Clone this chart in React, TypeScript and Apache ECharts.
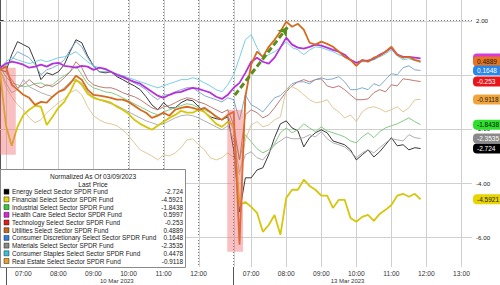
import React, { useEffect, useRef } from "react";
import * as echarts from "echarts";

const FONT = "Liberation Sans, Arial, sans-serif";

// time samples (10-minute bars) for each session
const day1Times = ["06:20","06:30","06:40","06:50","07:00","07:10","07:20","07:30","07:40","07:50","08:00","08:10","08:20","08:30","08:40","08:50","09:00","09:10","09:20","09:30","09:40","09:50","10:00","10:10","10:20","10:30","10:40","10:50","11:00","11:10","11:20","11:30","11:40","11:50","12:00","12:10","12:20","12:30","12:40","12:50"];
const day2Times = ["06:30","06:40","06:50","07:00","07:10","07:20","07:30","07:40","07:50","08:00","08:10","08:20","08:30","08:40","08:50","09:00","09:10","09:20","09:30","09:40","09:50","10:00","10:10","10:20","10:30","10:40","10:50","11:00","11:10","11:20","11:30","11:40","11:50"];

const day1HourLabels = ["07:00","08:00","09:00","10:00","11:00","12:00"];
const day2HourLabels = ["07:00","08:00","09:00","10:00","11:00","12:00","13:00"];
const dateLabels = ["10 Mar 2023", "13 Mar 2023"];
const dateCenters = ["09:40", "09:45"];
const sessionStarts = ["06:30", "06:30"];
const yTickValues = [-6, -4, -2, 0, 2];
const yLabelValues = [-6, -4, -2, 2];
const Y_MIN = -7.088;
const Y_MAX = 2.756;
const X_MAX = 808;

const sectorNames = [
  "Energy Select Sector SPDR Fund",
  "Financial Select Sector SPDR Fund",
  "Industrial Select Sector SPDR Fund",
  "Health Care Select Sector SPDR Fund",
  "Technology Select Sector SPDR Fund",
  "Utilities Select Sector SPDR Fund",
  "Consumer Discretionary Select Sector SPDR Fund",
  "Materials Select Sector SPDR Fund",
  "Consumer Staples Select Sector SPDR Fund",
  "Real Estate Select Sector SPDR Fund",
];
const lastPrices = ["-2.724","-4.5921","-1.8438","0.5997","-0.253","0.4889","0.1648","-2.3535","0.4478","-0.9118"];

const energyD1 = [0.18,0.11,0.74,1.22,1.11,1.00,0.48,-0.18,0.07,0,0.11,0.37,0.85,1.29,1.18,0.70,0.33,0.11,0.07,0.11,-0.07,-0.18,-0.30,-0.41,-0.55,-0.81,-1.11,-1.29,-1.03,-1.22,-1.22,-1.03,-0.92,-0.96,-1.18,-1.37,-1.55,-1.62,-1.66,-1.55];
const energyD2 = [-2.77,-5.06,-3.80,-3.80,-3.51,-3.43,-2.95,-2.32,-1.81,-1.70,-1.96,-2.07,-2.66,-2.32,-2.14,-2.03,-2.14,-2.44,-2.51,-2.58,-2.77,-3.14,-2.95,-2.77,-3.03,-2.84,-2.58,-2.32,-2.62,-2.58,-2.77,-2.69,-2.72];
const financialD1 = [0.11,-1.85,-2.62,-1.92,-1.48,-1.29,-1.14,-1.18,-1.85,-1.55,-1.22,-1.00,-0.63,-0.18,-0.37,-0.70,-0.85,-0.92,-0.96,-1.03,-1.18,-1.29,-1.44,-1.66,-1.81,-1.92,-2.03,-1.88,-1.73,-1.59,-1.48,-1.33,-1.40,-1.40,-1.29,-1.37,-1.59,-1.81,-1.92,-1.73];
const financialD2 = [-1.85,-4.80,-4.69,-4.87,-5.09,-5.79,-5.54,-5.17,-5.90,-4.54,-4.24,-4.24,-3.87,-4.10,-4.24,-4.46,-4.46,-4.91,-4.61,-4.61,-5.28,-5.42,-5.24,-5.17,-5.39,-5.13,-4.98,-4.80,-4.46,-4.39,-4.50,-4.39,-4.59];
const industrialD1 = [0.30,-0.07,-0.30,-0.37,-0.44,-0.41,-0.33,-0.30,-0.41,-0.37,-0.18,-0.04,0.11,0.33,0,-0.33,-0.48,-0.55,-0.63,-0.66,-0.74,-0.85,-0.96,-1.07,-1.18,-1.29,-1.40,-1.48,-1.37,-1.29,-1.22,-1.14,-1.07,-1.11,-1.22,-1.29,-1.40,-1.51,-1.66,-1.51];
const industrialD2 = [-2.03,-3.14,-2.21,-2.47,-2.73,-2.88,-2.77,-2.55,-2.14,-1.96,-2.14,-2.03,-1.81,-1.96,-2.10,-1.92,-2.07,-2.14,-2.21,-2.29,-2.44,-2.51,-2.29,-2.14,-2.32,-2.10,-1.96,-1.88,-1.81,-1.70,-1.59,-1.73,-1.84];
const healthD1 = [0.26,0.41,0.48,0.44,0.37,0.26,0.30,0.37,0.30,0.41,0.44,0.33,0.30,0.26,0.33,0.30,0.18,0.26,0.22,0.11,0,-0.07,-0.18,-0.26,-0.33,-0.48,-0.63,-0.77,-0.85,-0.74,-0.66,-0.63,-0.55,-0.48,-0.52,-0.59,-0.66,-0.81,-0.89,-0.74];
const healthD2 = [-0.48,-0.30,0.07,0.48,0.63,0.48,0.41,0.63,1.00,1.37,1.11,1.00,0.96,1.03,1.11,1.07,1.00,0.92,0.85,0.74,0.55,0.44,0.52,0.52,0.59,0.74,0.85,1.00,0.74,0.66,0.66,0.63,0.60];
const techD1 = [0.18,0.11,-0.18,-0.48,-0.37,-0.18,-0.37,-0.48,-0.37,-0.44,-0.30,-0.11,0.11,0.48,0.26,-0.18,-0.37,-0.44,-0.48,-0.48,-0.55,-0.66,-0.74,-0.81,-0.92,-1.07,-1.22,-1.29,-1.18,-1.14,-1.03,-0.92,-0.85,-0.89,-1.00,-1.07,-1.18,-1.29,-1.40,-1.29];
const techD2 = [-1.85,-3.14,-1.48,-1.29,-1.40,-1.59,-1.48,-1.22,-0.92,-0.63,-0.41,-0.26,-0.18,-0.26,-0.18,-0.15,-0.41,-0.48,-0.41,-0.55,-0.74,-0.92,-0.92,-0.89,-0.66,-0.55,-0.63,-0.37,-0.41,-0.15,-0.18,-0.22,-0.25];
const utilD1 = [0.18,0.30,-0.37,-0.55,-0.74,-0.85,-1.11,-1.00,-1.03,-0.81,-0.63,-0.55,-0.33,-0.04,-0.18,-0.55,-0.74,-0.77,-0.81,-0.85,-0.92,-0.92,-1.00,-1.14,-1.29,-1.40,-1.59,-1.51,-1.40,-1.51,-1.29,-1.22,-1.18,-1.22,-1.29,-1.22,-1.37,-1.55,-1.66,-1.48];
const utilD2 = [-1.37,-6.27,-0.81,0.37,0.85,0.66,1.03,1.29,1.59,1.96,1.77,1.88,1.66,1.18,1.11,1.22,1.14,1.03,0.85,0.66,0.55,0.33,0.55,0.48,0.63,0.70,0.85,1.03,0.74,0.63,0.66,0.55,0.49];
const discD1 = [0.26,0.33,0.55,0.85,0.74,0.63,0.37,0,0.18,0.26,0.37,0.55,0.92,1.22,1.03,0.63,0.33,0.11,0.11,0.11,-0.04,-0.11,-0.18,-0.30,-0.41,-0.55,-0.77,-0.92,-0.74,-0.74,-0.63,-0.55,-0.48,-0.48,-0.63,-0.77,-0.85,-0.92,-1.00,-0.85];
const discD2 = [-0.92,-1.66,-0.74,-1.11,-1.22,-1.37,-1.11,-0.85,-0.77,-0.55,-0.33,-0.26,-0.26,-0.33,-0.18,-0.11,-0.18,-0.15,-0.07,-0.26,-0.55,-0.55,-0.48,-0.55,-0.33,-0.41,-0.18,0.04,0,0.26,0.33,0.18,0.16];
const materialsD1 = [0.18,-0.30,-0.66,-0.55,-0.18,-0.44,-0.55,-0.66,-0.74,-0.81,-0.63,-0.48,-0.26,-0.18,-0.30,-0.63,-0.81,-0.92,-1.00,-1.07,-1.14,-1.25,-1.37,-1.48,-1.59,-1.70,-1.77,-1.85,-1.81,-1.70,-1.59,-1.51,-1.48,-1.51,-1.59,-1.70,-1.81,-1.92,-2.03,-1.88];
const materialsD2 = [-2.40,-3.58,-2.95,-2.84,-3.06,-3.14,-2.88,-2.58,-2.44,-2.29,-2.36,-2.36,-2.32,-2.21,-2.29,-2.10,-2.36,-2.51,-2.58,-2.66,-2.84,-3.06,-2.88,-2.77,-2.88,-2.69,-2.51,-2.36,-2.40,-2.44,-2.21,-2.32,-2.35];
const staplesD1 = [0.26,0.48,0.63,0.55,0.48,0.41,0.48,0.55,0.48,0.55,0.63,0.66,0.74,0.85,0.66,0.48,0.33,0.26,0.18,0.11,0.04,-0.04,-0.11,-0.18,-0.26,-0.33,-0.41,-0.48,-0.41,-0.33,-0.26,-0.18,-0.18,-0.11,-0.18,-0.30,-0.41,-0.55,-0.63,-0.37];
const staplesD2 = [0,0.63,1.29,1.48,1.00,0.63,0.74,0.85,1.00,1.22,1.00,0.92,0.74,0.92,1.03,1.00,0.92,0.85,0.74,0.66,0.55,0.37,0.48,0.48,0.55,0.66,0.77,0.92,0.70,0.55,0.59,0.52,0.45];
const realEstateD1 = [0.18,-0.44,-0.81,-1.11,-1.29,-1.59,-1.77,-1.66,-1.40,-1.22,-1.03,-0.89,-0.66,-0.55,-0.74,-1.18,-1.51,-1.66,-1.77,-1.81,-1.88,-2.03,-2.25,-2.51,-2.77,-2.88,-2.99,-3.14,-2.95,-2.99,-2.88,-2.69,-2.40,-2.36,-2.58,-2.77,-3.06,-3.14,-3.06,-2.88];
const realEstateD2 = [-3.06,-3.69,-2.40,-1.85,-1.73,-1.92,-1.85,-1.66,-1.55,-0.55,-0.44,-0.55,-0.74,-0.92,-1.03,-1.00,-0.92,-1.22,-1.37,-1.59,-1.48,-1.73,-1.37,-1.22,-1.18,-1.25,-1.37,-1.29,-1.18,-1.37,-1.22,-0.92,-0.91];

const valuesDay1 = [energyD1, financialD1, industrialD1, healthD1, techD1, utilD1, discD1, materialsD1, staplesD1, realEstateD1];
const valuesDay2 = [energyD2, financialD2, industrialD2, healthD2, techD2, utilD2, discD2, materialsD2, staplesD2, realEstateD2];

const legendColors = ["#000000","#e6d600","#33cc33","#dd22dd","#e01b1b","#c8661a","#2d7fe0","#888888","#35c0e0","#e8a02a"];
const lineColors = ["#222222","#d6c60e","#78c478","#b531d9","#b86a63","#d66a1e","#73a0cc","#a6a6a6","#66c8e0","#dcc28c"];
const lineWidths = [1, 2, 1, 2, 1, 2, 1, 1, 1, 1];
const tagColors = ["#000000","#e8d400","#2ee02e","#d83ad8","#e8161b","#e8741e","#2a86e8","#8a8a8a","#40c8e8","#f0a43a"];
const tagText = ["#fff","#222","#111","#fff","#fff","#1a1a1a","#fff","#fff","#222","#222"];
// stacking order of the right-hand value tags (first = bottom); Health Care's is covered in the reference
const tagOrder = [3, 5, 6, 4, 9, 0, 7, 2, 1];

// annotations (session, time, value)
const shadeBoxes = [
  { day: 1, from: "06:20", to: "06:47", top: 0.26, bottom: -2.95 },
  { day: 2, from: "06:19", to: "06:46", top: -1.29, bottom: -6.53 },
];
const arrowFrom = { day: 2, time: "06:32", value: -0.75 };
const arrowTo = { day: 2, time: "08:02", value: 1.75 };

function toX(day: number, hm: string): number {
  const [h, m] = hm.split(":").map(Number);
  const mins = h * 60 + m;
  return day === 1 ? mins - (6 * 60 + 20) : 400 + mins - (6 * 60 + 30);
}

export default function App() {
  const ref = useRef<HTMLDivElement>(null);
  useEffect(() => {
    if (!ref.current) return;
    const chart = echarts.init(ref.current, undefined, { renderer: "svg" });

    const hourVals: number[] = [];
    const hourMap: Record<number, string> = {};
    day1HourLabels.forEach((t) => { const v = toX(1, t); hourVals.push(v); hourMap[v] = t; });
    day2HourLabels.forEach((t) => { const v = toX(2, t); hourVals.push(v); hourMap[v] = t; });
    const dateVals = dateCenters.map((t, i) => toX(i + 1, t));
    const dateMap: Record<number, string> = {};
    dateVals.forEach((v, i) => (dateMap[v] = dateLabels[i]));
    const startVals = sessionStarts.map((t, i) => toX(i + 1, t));
    const vGridVals = [...startVals, ...hourVals].sort((a, b) => a - b);

    const tags = tagOrder.map((i) => ({
      yAxis: parseFloat(lastPrices[i]),
      lineStyle: { color: "rgba(0,0,0,0)", width: 0 },
      label: {
        show: true,
        formatter: i === 3 ? " " : lastPrices[i],
        backgroundColor: tagColors[i],
        color: tagText[i],
      },
    }));

    const series: any[] = sectorNames.map((name, i) => {
      const data = [
        ...day1Times.map((t, k) => [toX(1, t), valuesDay1[i][k]]),
        ...day2Times.map((t, k) => [toX(2, t), valuesDay2[i][k]]),
      ];
      return {
        type: "line",
        name,
        data,
        symbol: "none",
        showSymbol: false,
        silent: true,
        z: lineWidths[i] > 1 ? 3 : 2,
        lineStyle: { color: lineColors[i], width: lineWidths[i] === 2 ? 1.8 : 0.9 },
      };
    });

    series[1].markLine = {
      silent: true,
      z: 6,
      symbol: ["none", "arrow"],
      symbolSize: 9,
      label: { show: false },
      lineStyle: { color: "#5a8d1c", type: [6, 3], width: 3 },
      data: [[
        { coord: [toX(arrowFrom.day, arrowFrom.time), arrowFrom.value] },
        { coord: [toX(arrowTo.day, arrowTo.time), arrowTo.value] },
      ]],
    };
    series[5].markArea = {
      silent: true,
      z: 4,
      itemStyle: { color: "rgba(238,105,105,0.42)" },
      data: shadeBoxes.map((b) => [
        { coord: [toX(b.day, b.from), b.top] },
        { coord: [toX(b.day, b.to), b.bottom] },
      ]),
    };
    series[9].markLine = {
      silent: true,
      z: 10,
      symbol: ["none", "none"],
      label: {
        show: true,
        position: "end",
        distance: 1,
        fontSize: 6.5,
        fontFamily: FONT,
        width: 22,
        padding: [2, 2, 1, 4],
        borderRadius: [4, 0, 0, 4],
        lineHeight: 7,
      },
      lineStyle: { color: "rgba(0,0,0,0)", width: 0 },
      data: tags,
    };

    const gridLineStyle = { color: "#7c7c7c", type: [1, 2], width: 1 };

    chart.setOption({
      animation: false,
      backgroundColor: "#ffffff",
      textStyle: { fontFamily: FONT },
      grid: { left: 0, right: 28, top: 0, bottom: 18, containLabel: false },
      xAxis: [
        {
          type: "value", min: 0, max: X_MAX, position: "bottom",
          axisLine: { show: true, lineStyle: { color: "#b0b0b0", width: 1 } },
          axisTick: { show: false, customValues: vGridVals },
          axisLabel: { customValues: hourVals, formatter: (v: number) => hourMap[Math.round(v)] ?? "", fontSize: 6.7, color: "#333", margin: 3, fontFamily: FONT },
          splitLine: { show: true, lineStyle: gridLineStyle },
        },
        {
          type: "value", min: 0, max: X_MAX, position: "bottom",
          axisLine: { show: false },
          axisTick: { show: true, customValues: startVals, length: 18, lineStyle: { color: "#555", width: 1 } },
          axisLabel: { customValues: dateVals, formatter: (v: number) => dateMap[Math.round(v)] ?? "", fontSize: 6, color: "#333", margin: 11, fontFamily: FONT },
          splitLine: { show: false },
        },
      ],
      yAxis: {
        type: "value", min: Y_MIN, max: Y_MAX, position: "right",
        axisLine: { show: true, lineStyle: { color: "#555", width: 1 } },
        axisTick: { show: true, customValues: yTickValues, length: 3, lineStyle: { color: "#333" } },
        axisLabel: { customValues: yLabelValues, formatter: (v: number) => v.toFixed(2), fontSize: 6.2, color: "#222", margin: 4, fontFamily: FONT },
        splitLine: { show: true, lineStyle: gridLineStyle },
      },
      series,
    });

    // grid lines placed through the chart's own scales
    const finder = { xAxisIndex: 0, yAxisIndex: 0 };
    const gridGraphic: any[] = [];
    try {
      vGridVals.forEach((v) => {
        const p = chart.convertToPixel(finder as any, [v, Y_MAX]) as any;
        const q = chart.convertToPixel(finder as any, [v, Y_MIN]) as any;
        if (!p || !q || isNaN(p[0])) return;
        const x = Math.round(p[0]) + 0.5;
        gridGraphic.push({ type: "line", z: 1, silent: true, shape: { x1: x, y1: p[1], x2: x, y2: q[1] }, style: { stroke: "#d0d0d0", lineWidth: 1 } });
      });
      yTickValues.forEach((v) => {
        const p = chart.convertToPixel(finder as any, [0, v]) as any;
        const q = chart.convertToPixel(finder as any, [X_MAX, v]) as any;
        if (!p || !q || isNaN(p[1])) return;
        const y = Math.round(p[1]) + 0.5;
        gridGraphic.push({ type: "line", z: 1, silent: true, shape: { x1: p[0], y1: y, x2: q[0], y2: y }, style: { stroke: "#d0d0d0", lineWidth: 1 } });
      });
    } catch (e) {
      // keep chart without extra grid lines
    }

    const legendRowY = sectorNames.map((_, i) => 191.7 + i * 7.7);
    const legendGraphic: any[] = [
      { type: "rect", z: 100, shape: { x: 0.5, y: 169.5, width: 185, height: 98 }, style: { fill: "#ffffff", stroke: "#8a8a8a", lineWidth: 1 } },
      { type: "text", z: 101, x: 93, y: 176, style: { text: "Normalized As Of 03/09/2023", fill: "#222", font: `6.6px ${FONT}`, align: "center", verticalAlign: "middle", textAlign: "center", textVerticalAlign: "middle" } },
      { type: "text", z: 101, x: 93, y: 184, style: { text: "Last Price", fill: "#222", font: `6.6px ${FONT}`, align: "center", verticalAlign: "middle", textAlign: "center", textVerticalAlign: "middle" } },
    ];
    sectorNames.forEach((name, i) => {
      const y = legendRowY[i];
      legendGraphic.push({ type: "rect", z: 101, shape: { x: 4, y: y - 2.5, width: 5, height: 5 }, style: { fill: legendColors[i], stroke: "#222", lineWidth: 0.5 } });
      legendGraphic.push({ type: "text", z: 101, x: 12, y, style: { text: name, fill: "#222", font: `6.4px ${FONT}`, align: "left", verticalAlign: "middle", textAlign: "left", textVerticalAlign: "middle" } });
      legendGraphic.push({ type: "text", z: 101, x: 183, y, style: { text: lastPrices[i], fill: "#222", font: `6.4px ${FONT}`, align: "right", verticalAlign: "middle", textAlign: "right", textVerticalAlign: "middle" } });
    });

    chart.setOption({ graphic: [...gridGraphic, ...legendGraphic] });
    return () => chart.dispose();
  }, []);
  return <div ref={ref} style={{ position: "fixed", left: 0, top: 0, width: 500, height: 285 }} />;
}
